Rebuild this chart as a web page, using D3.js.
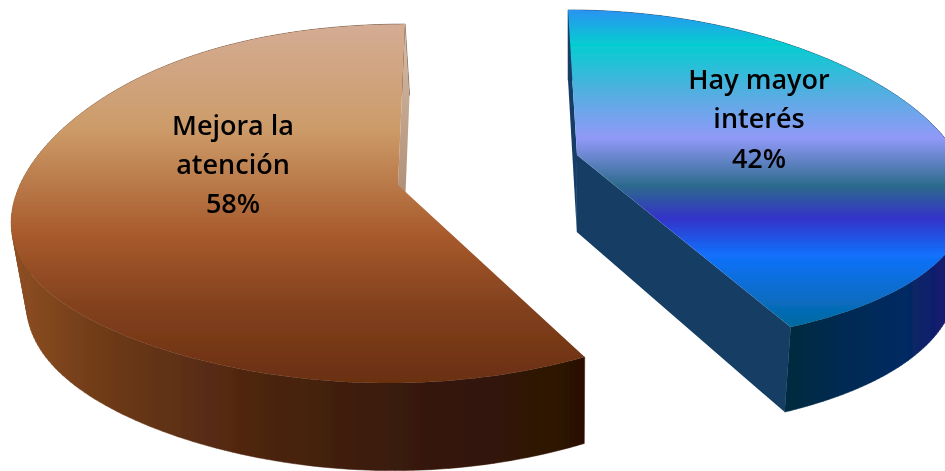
<!DOCTYPE html>
<html><head><meta charset="utf-8">
<style>html,body{margin:0;padding:0;background:#fff;overflow:hidden}svg{display:block}</style>
<script src="https://cdn.jsdelivr.net/npm/d3@7"></script></head><body>
<svg id="c" width="945" height="471"></svg>
<script>
const categories = ["Hay mayor interés", "Mejora la atención"];
const values = [42, 58];
const labelLines = [["Hay mayor","interés","42%"],["Mejora la","atención","58%"]];

const svg=d3.select("#c");
const defs=svg.append("defs");
defs.append("filter").attr("id","soft").attr("filterUnits","userSpaceOnUse")
  .attr("x",0).attr("y",0).attr("width",945).attr("height",471)
  .append("feGaussianBlur").attr("stdDeviation",0.55);
function grad(id,x1,y1,x2,y2,stops){
  const g=defs.append("linearGradient").attr("id",id).attr("gradientUnits","userSpaceOnUse")
    .attr("x1",x1).attr("y1",y1).attr("x2",x2).attr("y2",y2);
  const t=d3.scaleLinear().domain(d3.extent(stops,d=>d[0])).range([0,1]);
  stops.forEach(s=>g.append("stop").attr("offset",t(s[0])).attr("stop-color",s[1]));
  return `url(#${id})`;
}
// perspective settings
const hy=-1521,vx=473,h=0.046,nx=570,nf=0.027;
const slices=[
 {a:5.967e-4,ku:0.06205,k:0.228,bBack:5.65e-5,bFront:6.15e-5,uPos:1,
  bump:u=>0.12*u*u,wallStartOn:true,wallEndOn:true,
  top:grad("t0",0,10,0,327,[[10,"#2a93f2"],[45,"#05cdd0"],[90,"#4fb0e0"],[138,"#9199f8"],[186,"#2c6a8c"],[218,"#3333c8"],[255,"#1270fc"],[327,"#026a9f"]]),
  wall:grad("w0",793,0,945,0,[[793,"#012a40"],[850,"#022c54"],[905,"#032a62"],[945,"#161a70"]]),
  wallStart:"#143e68",wallEnd:"#133d63"},
 {a:5.862e-4,ku:-0.04396,k:0.2225,bBack:6.1e-5,bFront:6.1e-5,uPos:0.965,
  bump:u=>0.09*u*u*u*u,wallStartOn:false,wallEndOn:true,
  top:grad("t1",0,26,0,387,[[26,"#d4ac94"],[130,"#cc9b68"],[235,"#a85a2c"],[300,"#85431f"],[387,"#692e10"]]),
  wall:grad("w1",12,0,583,0,[[12,"#8e4f22"],[100,"#6f3b18"],[250,"#4e2610"],[400,"#381a09"],[583,"#2b1105"]]),
  wallStart:"none",wallEnd:grad("b1",0,26,0,190,[[26,"#d8bda8"],[190,"#b09078"]])}
];
const project=(s,u,v)=>{
  const d=1/(s.a-(v<0?s.bBack:s.bFront)*v);
  return [vx+(s.ku+s.k*(u>0?u*s.uPos:u))*d, hy+d];
};
const drop=p=>[p[0]+(nx-p[0])*nf, p[1]+h*(p[1]-hy)];
const line=d3.line();
const arcs=d3.pie().sort(null).value(d=>d)(values);

const g=svg.append("g").attr("filter","url(#soft)");
arcs.forEach((a,i)=>{
  const s=slices[i];
  const angs=d3.range(0,161).map(j=>a.startAngle+(a.endAngle-a.startAngle)*j/160);
  const rim=angs.map(t=>{const u=Math.sin(t),v=-Math.cos(t);return project(s,u,v+s.bump(u));});
  const low=rim.map(drop);
  const apex=project(s,0,0);
  const sg=g.append("g");
  // outer wall: swept quads with one winding, in one path, so no seams show
  const wallPath=d3.range(rim.length-1).map(j=>{
    const q=[rim[j],rim[j+1],low[j+1],low[j]];
    return line(d3.polygonArea(q)<0?q.reverse():q)+"Z";
  }).join("");
  sg.append("path").attr("d",wallPath).attr("fill",s.wall).attr("stroke",s.wall).attr("stroke-width",0.5);
  // flat cut walls
  [[rim[0],s.wallStart,s.wallStartOn],[rim[rim.length-1],s.wallEnd,s.wallEndOn]].filter(e=>e[2]).forEach(([e,fill])=>{
    sg.append("path").attr("d",line([apex,e,drop(e),drop(apex)])+"Z").attr("fill",fill);
  });
  sg.append("path").attr("d",line([apex].concat(rim))+"Z").attr("fill",s.top);
});
const pos=[[759,[89,128,168]],[233,[135,174,213]]];
const tg=svg.append("g").attr("filter","url(#soft)");
labelLines.forEach((ls,i)=>{
  ls.forEach((t,j)=>{
    tg.append("text").attr("x",pos[i][0]).attr("y",pos[i][1][j]).attr("text-anchor","middle")
      .attr("font-family","'Open Sans','Noto Sans',sans-serif").attr("font-weight",600).attr("font-size",27)
      .attr("fill","#050505").text(t);
  });
});
</script></body></html>
